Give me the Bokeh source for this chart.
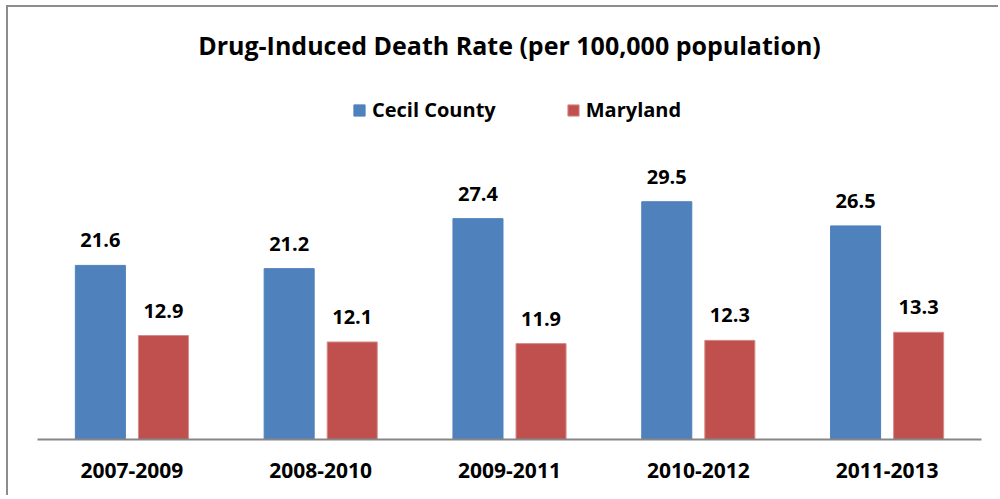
from bokeh.plotting import figure
from bokeh.models import ColumnDataSource, FactorRange, Range1d, LabelSet, Legend, LegendItem
from bokeh.transform import dodge
from bokeh.core.properties import value
from bokeh.embed import file_html
from bokeh.resources import INLINE

periods = ["2007-2009", "2008-2010", "2009-2011", "2010-2012", "2011-2013"]
cecil = [21.6, 21.2, 27.4, 29.5, 26.5]
maryland = [12.9, 12.1, 11.9, 12.3, 13.3]
series_names = ["Cecil County", "Maryland"]
colors = ["#4F81BD", "#C0504D"]

src = ColumnDataSource(dict(
    period=periods,
    cecil=cecil,
    maryland=maryland,
    cecil_txt=[f"{v:.1f}" for v in cecil],
    maryland_txt=[f"{v:.1f}" for v in maryland],
))

FONT = "Open Sans"
PX_PER_UNIT = 8.06
frame_h = 432 - 62
p = figure(
    width=992, height=490,
    x_range=FactorRange(*periods, range_padding=0),
    y_range=Range1d(0, frame_h / PX_PER_UNIT),
    output_backend="svg", toolbar_location=None,
    title="Drug-Induced Death Rate (per 100,000 population)",
    min_border_left=29, min_border_right=19, min_border_bottom=58, min_border_top=62,
)
p.styles = {"border-left": "2px solid #8c8c8c", "border-top": "2px solid #8c8c8c",
            "margin-left": "6px", "margin-top": "5px"}

p.title.align = "center"
p.title.text_font = FONT
p.title.text_font_size = "25px"
p.title.text_font_style = "bold"
p.title.text_color = "#000000"
p.title.standoff = 16

off = 0.167
w = 0.265
r1 = p.vbar(x=dodge("period", -off, range=p.x_range), top="cecil", width=w, source=src,
            fill_color=colors[0], line_color=colors[0])
r2 = p.vbar(x=dodge("period", off, range=p.x_range), top="maryland", width=w, source=src,
            fill_color=colors[1], line_color="#D48C8A")

for col, d in (("cecil", -off), ("maryland", off)):
    lbl = LabelSet(x=dodge("period", d, range=p.x_range), y=col, text=col + "_txt", source=src,
                   text_align="center", text_baseline="alphabetic", y_offset=18,
                   text_font=value(FONT), text_font_size="20px", text_font_style="bold",
                   text_color="#000000")
    p.add_layout(lbl)

legend = Legend(items=[LegendItem(label=series_names[0], renderers=[r1]),
                       LegendItem(label=series_names[1], renderers=[r2])],
                orientation="horizontal", location=(315, 316),
                glyph_width=14, glyph_height=14, label_standoff=6, spacing=70,
                padding=0, margin=0, border_line_color=None, background_fill_alpha=0,
                label_text_font=FONT, label_text_font_size="20px", label_text_font_style="bold",
                label_text_color="#000000")
p.add_layout(legend)

p.yaxis.visible = False
p.xgrid.grid_line_color = None
p.ygrid.grid_line_color = None
p.outline_line_color = None
p.xaxis.axis_line_color = "#868686"
p.xaxis.axis_line_width = 2
p.xaxis.major_tick_line_color = None
p.xaxis.minor_tick_line_color = None
p.xaxis.major_label_standoff = 17
p.xaxis.major_label_text_font = FONT
p.xaxis.major_label_text_font_size = "21px"
p.xaxis.major_label_text_font_style = "bold"
p.xaxis.major_label_text_color = "#000000"

open("out.html", "w").write(file_html(p, INLINE))
